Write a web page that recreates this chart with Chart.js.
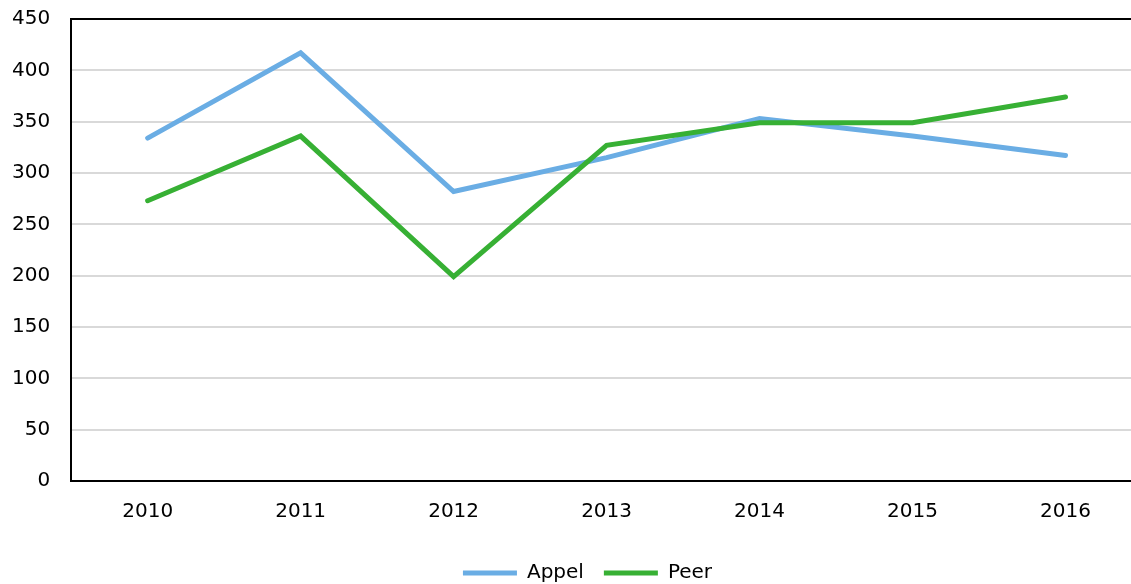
<!DOCTYPE html>
<html>
<head>
<meta charset="utf-8">
<script src="https://cdn.jsdelivr.net/npm/chart.js@4"></script>
<style>
  html, body { margin: 0; padding: 0; background: #fff; overflow: hidden; }
  #wrap { width: 1142px; height: 584px; }
</style>
</head>
<body>
<div id="wrap"><canvas id="myChart"></canvas></div>
<script>
var years = ["2010", "2011", "2012", "2013", "2014", "2015", "2016"];
var appel = [334, 417, 282, 315, 353, 336, 317];
var peer = [273, 336, 199, 327, 349, 349, 374];
var yMax = 450;
var yStep = 50;

var fontFamily = "'DejaVu Sans', Verdana, sans-serif";

// nudge the legend a bit to the right of the canvas centre
var legendShift = {
	id: "legendShift",
	afterLayout: function (chart) {
		if (chart.legend) {
			chart.legend.left += 42;
		}
	},
};

var ctx = document.getElementById("myChart").getContext("2d");
var myChart = new Chart(ctx, {
	type: "line",
	data: {
		labels: years,
		datasets: [
			{
				label: "Appel",
				data: appel,
				borderColor: "#6aade4",
				backgroundColor: "#6aade4",
				borderWidth: 5,
				pointRadius: 0,
				borderCapStyle: "round",
				order: 1,
			},
			{
				label: "Peer",
				data: peer,
				borderColor: "#37b034",
				backgroundColor: "#37b034",
				borderWidth: 5,
				pointRadius: 0,
				borderCapStyle: "round",
				order: 0,
			},
		],
	},
	options: {
		responsive: true,
		maintainAspectRatio: false,
		animation: false,
		layout: {
			padding: { left: -9, right: 0, top: 19, bottom: -9 },
		},
		scales: {
			x: {
				offset: true,
				grid: { display: false, drawTicks: false },
				border: { color: "#000", width: 2 },
				ticks: {
					color: "#000",
					padding: 19,
					font: { family: fontFamily, size: 20 },
				},
			},
			y: {
				min: 0,
				max: yMax,
				afterFit: function (scale) {
					scale.paddingTop = 0;
				},
				grid: {
					drawTicks: false,
					color: function (c) {
						return c.tick && c.tick.value === yMax ? "#000" : "#d9d9d9";
					},
					lineWidth: 2,
				},
				border: { color: "#000", width: 2 },
				ticks: {
					stepSize: yStep,
					color: "#000",
					padding: 21,
					font: { family: fontFamily, size: 20 },
				},
			},
		},
		plugins: {
			legend: {
				position: "bottom",
				labels: {
					color: "#000",
					boxWidth: 54,
					boxHeight: 5,
					padding: 20,
					font: { family: fontFamily, size: 20 },
					sort: function (a, b) {
						return a.datasetIndex - b.datasetIndex;
					},
					generateLabels: function (chart) {
						var items = Chart.defaults.plugins.legend.labels.generateLabels(chart);
						items.forEach(function (item) {
							item.lineWidth = 0;
						});
						return items;
					},
				},
			},
			tooltip: { enabled: false },
		},
	},
	plugins: [legendShift],
});
</script>
</body>
</html>
